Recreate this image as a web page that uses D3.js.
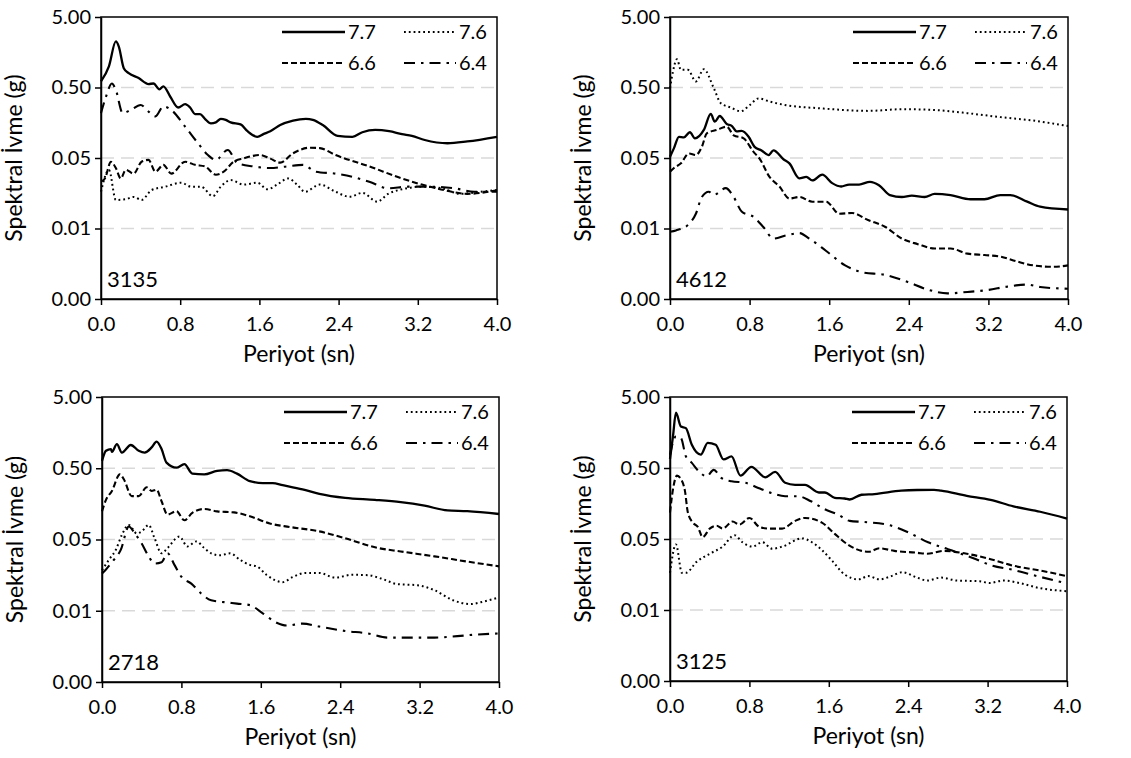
<!DOCTYPE html>
<html><head><meta charset="utf-8">
<script src="https://cdn.jsdelivr.net/npm/d3@7"></script>
<style>
html,body{margin:0;padding:0;background:#fff;}
svg{display:block;font-family:Lato,"Open Sans",sans-serif;}
</style></head>
<body><svg id="c" width="1131" height="758"></svg>
<script>
// ---------- data (period s, spectral acceleration g) ----------
const seriesNames = ["7.7","7.6","6.6","6.4"];
const stationNames = ["3135","4612","2718","3125"];
const xTickValues = [0,0.8,1.6,2.4,3.2,4.0];
const xTickLabels = ["0.0","0.8","1.6","2.4","3.2","4.0"];
const yTickValues = [0.0005,0.005,0.05,0.5,5];
const yTickLabels = ["0.00","0.01","0.05","0.50","5.00"];

const s3135_77 = [[0,0.61],[0.08,1.0],[0.15,2.25],[0.18,1.9],[0.23,0.94],[0.28,0.8],[0.38,0.68],[0.48,0.56],[0.53,0.57],[0.59,0.47],[0.63,0.52],[0.70,0.37],[0.78,0.26],[0.85,0.29],[0.90,0.26],[0.95,0.21],[1.0,0.21],[1.05,0.18],[1.11,0.155],[1.16,0.16],[1.21,0.18],[1.26,0.174],[1.31,0.16],[1.41,0.15],[1.48,0.12],[1.58,0.10],[1.64,0.109],[1.71,0.12],[1.81,0.147],[1.94,0.17],[2.07,0.18],[2.14,0.174],[2.24,0.147],[2.39,0.103],[2.54,0.10],[2.64,0.116],[2.77,0.125],[2.91,0.12],[3.04,0.109],[3.14,0.103],[3.27,0.09],[3.50,0.081],[3.70,0.086],[4.0,0.10]];
const s3135_76 = [[0,0.0166],[0.08,0.034],[0.15,0.0127],[0.25,0.013],[0.33,0.014],[0.41,0.0127],[0.51,0.0175],[0.65,0.0196],[0.81,0.0223],[0.91,0.0196],[1.01,0.0196],[1.13,0.0144],[1.21,0.0196],[1.31,0.0243],[1.44,0.021],[1.58,0.0223],[1.68,0.018],[1.78,0.021],[1.89,0.0257],[1.98,0.021],[2.06,0.0166],[2.21,0.021],[2.37,0.0166],[2.51,0.0141],[2.64,0.016],[2.79,0.012],[2.90,0.0155],[3.04,0.018],[3.24,0.0196],[3.44,0.0186],[3.63,0.0155],[3.83,0.0166],[4.0,0.0175]];
const s3135_66 = [[0,0.0231],[0.04,0.0256],[0.10,0.044],[0.15,0.036],[0.20,0.0256],[0.25,0.034],[0.33,0.03],[0.41,0.0443],[0.48,0.047],[0.55,0.032],[0.63,0.040],[0.71,0.030],[0.85,0.0443],[0.95,0.040],[1.05,0.038],[1.16,0.029],[1.24,0.032],[1.34,0.0443],[1.44,0.0494],[1.61,0.0551],[1.71,0.049],[1.81,0.043],[1.94,0.0583],[2.11,0.07],[2.21,0.069],[2.37,0.055],[2.71,0.038],[3.04,0.0256],[3.24,0.021],[3.47,0.0175],[3.70,0.0155],[4.0,0.0175]];
const s3135_64 = [[0,0.216],[0.05,0.37],[0.11,0.57],[0.15,0.46],[0.22,0.216],[0.30,0.24],[0.40,0.283],[0.48,0.228],[0.55,0.195],[0.63,0.27],[0.71,0.24],[0.85,0.139],[0.98,0.081],[1.08,0.055],[1.16,0.047],[1.28,0.065],[1.38,0.042],[1.54,0.038],[1.71,0.036],[1.88,0.038],[2.04,0.04],[2.17,0.032],[2.37,0.030],[2.54,0.027],[2.71,0.023],[2.90,0.0186],[3.10,0.0196],[3.34,0.0196],[3.57,0.0186],[3.77,0.0166],[4.0,0.0166]];

const s4612_77 = [[0,0.052],[0.04,0.069],[0.09,0.10],[0.14,0.098],[0.20,0.116],[0.25,0.095],[0.34,0.125],[0.41,0.211],[0.45,0.164],[0.50,0.197],[0.57,0.152],[0.62,0.143],[0.67,0.119],[0.72,0.121],[0.79,0.10],[0.85,0.072],[0.92,0.064],[0.99,0.055],[1.04,0.064],[1.14,0.048],[1.20,0.042],[1.30,0.0257],[1.37,0.027],[1.43,0.024],[1.53,0.029],[1.63,0.022],[1.72,0.0197],[1.80,0.021],[1.90,0.021],[2.01,0.023],[2.10,0.0206],[2.21,0.0149],[2.33,0.014],[2.43,0.0146],[2.56,0.014],[2.66,0.0155],[2.82,0.0149],[3.02,0.013],[3.16,0.013],[3.32,0.0149],[3.42,0.0149],[3.59,0.012],[3.72,0.0102],[4.0,0.0093]];
const s4612_76 = [[0,0.49],[0.03,0.846],[0.07,1.26],[0.11,0.89],[0.18,0.89],[0.26,0.61],[0.34,0.91],[0.44,0.49],[0.51,0.30],[0.61,0.26],[0.71,0.23],[0.80,0.28],[0.89,0.35],[1.0,0.316],[1.17,0.28],[1.50,0.254],[2.0,0.233],[2.33,0.246],[2.66,0.24],[2.99,0.216],[3.32,0.19],[3.65,0.17],[4.0,0.142]];
const s4612_66 = [[0,0.032],[0.04,0.036],[0.11,0.042],[0.19,0.058],[0.26,0.055],[0.32,0.072],[0.37,0.112],[0.47,0.125],[0.57,0.139],[0.64,0.105],[0.74,0.095],[0.84,0.061],[0.90,0.049],[1.0,0.027],[1.10,0.0197],[1.20,0.0133],[1.30,0.014],[1.43,0.012],[1.57,0.012],[1.70,0.0081],[1.83,0.0083],[1.99,0.0066],[2.16,0.0053],[2.33,0.0036],[2.49,0.003],[2.66,0.0026],[2.82,0.0026],[2.99,0.0022],[3.16,0.0021],[3.32,0.0020],[3.49,0.0017],[3.65,0.0015],[3.85,0.00143],[4.0,0.0015]];
const s4612_64 = [[0,0.0045],[0.06,0.0047],[0.18,0.0056],[0.26,0.0081],[0.32,0.014],[0.39,0.0166],[0.44,0.015],[0.56,0.0187],[0.64,0.014],[0.72,0.0087],[0.84,0.0073],[0.94,0.0052],[1.04,0.0036],[1.17,0.004],[1.30,0.0043],[1.40,0.0036],[1.57,0.0024],[1.76,0.0015],[1.93,0.0012],[2.16,0.0011],[2.39,0.00087],[2.59,0.00068],[2.79,0.0006],[2.99,0.00063],[3.19,0.00067],[3.39,0.00075],[3.59,0.0008],[3.72,0.00074],[4.0,0.0007]];

const s2718_77 = [[0,0.635],[0.04,0.88],[0.09,0.93],[0.10,0.85],[0.15,1.09],[0.20,0.83],[0.29,1.06],[0.37,0.88],[0.43,0.83],[0.50,0.98],[0.55,1.18],[0.60,0.93],[0.65,0.6],[0.75,0.51],[0.83,0.57],[0.91,0.42],[1.03,0.41],[1.16,0.46],[1.26,0.47],[1.36,0.42],[1.49,0.33],[1.62,0.31],[1.72,0.31],[1.82,0.29],[2.02,0.253],[2.19,0.219],[2.45,0.192],[2.75,0.18],[3.01,0.167],[3.25,0.149],[3.48,0.128],[3.68,0.125],[4.0,0.114]];
const s2718_76 = [[0,0.0186],[0.07,0.026],[0.14,0.036],[0.20,0.058],[0.27,0.080],[0.35,0.061],[0.40,0.065],[0.47,0.080],[0.53,0.052],[0.60,0.032],[0.66,0.038],[0.78,0.055],[0.86,0.040],[0.95,0.047],[1.03,0.038],[1.10,0.032],[1.19,0.030],[1.29,0.032],[1.39,0.026],[1.49,0.022],[1.56,0.021],[1.66,0.0158],[1.82,0.0126],[1.92,0.0148],[2.05,0.017],[2.19,0.017],[2.35,0.0146],[2.52,0.016],[2.68,0.0158],[2.81,0.0142],[2.98,0.0118],[3.18,0.0114],[3.35,0.0097],[3.54,0.0070],[3.71,0.0062],[3.84,0.0067],[4.0,0.0077]];
const s2718_66 = [[0,0.124],[0.04,0.18],[0.10,0.24],[0.18,0.41],[0.22,0.35],[0.30,0.203],[0.37,0.203],[0.45,0.27],[0.50,0.24],[0.55,0.25],[0.60,0.172],[0.66,0.112],[0.75,0.125],[0.83,0.093],[0.91,0.118],[1.03,0.134],[1.16,0.124],[1.33,0.12],[1.49,0.106],[1.69,0.084],[1.89,0.075],[2.19,0.065],[2.45,0.052],[2.78,0.038],[3.01,0.034],[3.35,0.029],[3.68,0.0245],[4.0,0.021]];
const s2718_64 = [[0,0.0167],[0.04,0.019],[0.10,0.024],[0.19,0.036],[0.27,0.076],[0.33,0.061],[0.40,0.044],[0.47,0.029],[0.53,0.023],[0.60,0.024],[0.66,0.032],[0.73,0.022],[0.80,0.015],[0.90,0.012],[1.0,0.0087],[1.10,0.0070],[1.23,0.0066],[1.36,0.0063],[1.49,0.0060],[1.62,0.0046],[1.76,0.0034],[1.86,0.0031],[2.02,0.0033],[2.19,0.0030],[2.45,0.0026],[2.68,0.0024],[2.88,0.0021],[3.18,0.0021],[3.35,0.0021],[3.58,0.0022],[3.74,0.0023],[4.0,0.0024]];

const s3125_77 = [[0,0.67],[0.03,1.4],[0.06,3.0],[0.11,1.92],[0.16,1.82],[0.22,1.06],[0.31,0.77],[0.38,1.13],[0.46,1.06],[0.54,0.66],[0.62,0.73],[0.71,0.39],[0.82,0.52],[0.96,0.37],[1.06,0.44],[1.16,0.31],[1.26,0.29],[1.36,0.29],[1.50,0.226],[1.56,0.226],[1.66,0.19],[1.76,0.186],[1.81,0.18],[1.93,0.21],[2.06,0.215],[2.33,0.24],[2.49,0.245],[2.66,0.246],[2.73,0.24],[2.99,0.203],[3.23,0.178],[3.46,0.144],[3.73,0.121],[4.0,0.097]];
const s3125_76 = [[0,0.0167],[0.06,0.042],[0.12,0.0167],[0.16,0.0167],[0.27,0.024],[0.40,0.031],[0.53,0.039],[0.65,0.0565],[0.73,0.045],[0.83,0.039],[0.93,0.045],[1.03,0.0365],[1.13,0.039],[1.33,0.051],[1.43,0.045],[1.53,0.035],[1.63,0.025],[1.76,0.0158],[1.90,0.0135],[2.0,0.015],[2.11,0.0135],[2.23,0.015],[2.34,0.017],[2.49,0.0143],[2.59,0.013],[2.73,0.0143],[2.89,0.013],[3.12,0.0127],[3.22,0.012],[3.36,0.013],[3.52,0.012],[3.72,0.0102],[4.0,0.0092]];
const s3125_66 = [[0,0.118],[0.03,0.25],[0.07,0.39],[0.12,0.33],[0.15,0.24],[0.18,0.118],[0.23,0.085],[0.28,0.074],[0.33,0.053],[0.40,0.07],[0.47,0.077],[0.53,0.07],[0.63,0.088],[0.70,0.08],[0.80,0.099],[0.90,0.074],[1.0,0.07],[1.13,0.07],[1.26,0.09],[1.36,0.099],[1.53,0.085],[1.66,0.059],[1.80,0.041],[1.93,0.034],[2.0,0.033],[2.11,0.037],[2.26,0.034],[2.49,0.032],[2.59,0.031],[2.76,0.034],[2.99,0.031],[3.23,0.026],[3.46,0.021],[3.73,0.018],[4.0,0.015]];
const s3125_64 = [[0,0.77],[0.06,1.39],[0.11,1.32],[0.16,0.73],[0.22,0.59],[0.29,0.45],[0.37,0.38],[0.44,0.47],[0.52,0.36],[0.62,0.325],[0.76,0.31],[0.89,0.262],[1.02,0.223],[1.16,0.20],[1.29,0.20],[1.42,0.17],[1.56,0.131],[1.69,0.111],[1.81,0.09],[1.95,0.087],[2.20,0.079],[2.40,0.062],[2.60,0.045],[2.80,0.036],[3.05,0.027],[3.25,0.021],[3.45,0.0185],[3.66,0.0155],[4.0,0.0118]];

// ---------- layout ----------
const panels = [
  {name: stationNames[0], L:101, R:497, T:17,  B:299, series:[s3135_77,s3135_76,s3135_66,s3135_64]},
  {name: stationNames[1], L:670, R:1068,T:17,  B:299, series:[s4612_77,s4612_76,s4612_66,s4612_64]},
  {name: stationNames[2], L:102, R:499, T:397, B:682, series:[s2718_77,s2718_76,s2718_66,s2718_64]},
  {name: stationNames[3], L:670, R:1067,T:397, B:681, series:[s3125_77,s3125_76,s3125_66,s3125_64]}
];
const styles = [
  {dash:null, w:2.3},
  {dash:"1.8,3", w:2},
  {dash:"6,3", w:2.1},
  {dash:"11,6,2.5,6", w:2.1}
];
const fontFam = 'Lato,"Open Sans",sans-serif';
const svg = d3.select("#c");

panels.forEach(p => {
  const g = svg.append("g");
  const x = d3.scaleLinear().domain([0,4]).range([p.L,p.R]);
  const y = d3.scaleLog().domain([0.0005,5]).range([p.B,p.T]);

  // gridlines
  g.selectAll("line.grid").data(yTickValues.slice(1,4)).enter().append("line")
    .attr("x1",p.L).attr("x2",p.R).attr("y1",d=>y(d)).attr("y2",d=>y(d))
    .attr("stroke","#d9d9d9").attr("stroke-width",1.6).attr("stroke-dasharray","13,7");

  // series
  const line = d3.line().x(d=>x(d[0])).y(d=>y(d[1])).curve(d3.curveMonotoneX);
  p.series.forEach((s,i) => {
    g.append("path").attr("d", line(s)).attr("fill","none")
      .attr("stroke","#000").attr("stroke-width",styles[i].w)
      .attr("stroke-dasharray",styles[i].dash).attr("stroke-linejoin","round");
  });

  // frame
  g.append("rect").attr("x",p.L).attr("y",p.T).attr("width",p.R-p.L).attr("height",p.B-p.T)
    .attr("fill","none").attr("stroke","#000").attr("stroke-width",1.5);

  // axes
  const ya = d3.axisLeft(y).tickValues(yTickValues).tickFormat((d,i)=>yTickLabels[i]).tickSize(6).tickSizeOuter(0).tickPadding(4);
  const yg = g.append("g").attr("transform",`translate(${p.L},0)`).call(ya);
  const xa = d3.axisBottom(x).tickValues(xTickValues).tickFormat((d,i)=>xTickLabels[i]).tickSize(6).tickSizeOuter(0).tickPadding(12);
  const xg = g.append("g").attr("transform",`translate(0,${p.B})`).call(xa);
  [yg,xg].forEach(a=>{
    a.select(".domain").attr("stroke","#000").attr("stroke-width",1.5);
    a.selectAll(".tick line").attr("stroke","#000").attr("stroke-width",1.5);
    a.selectAll(".tick text").attr("fill","#000").style("font-size","20px").style("font-family",fontFam);
  });

  // axis titles
  g.append("text").attr("x",(p.L+p.R)/2).attr("y",p.B+63).attr("text-anchor","middle")
    .style("font-size","23px").style("font-family",fontFam).text("Periyot (sn)");
  g.append("text").attr("transform",`translate(${p.L-79},${(p.T+p.B)/2}) rotate(-90)`)
    .attr("text-anchor","middle").style("font-size","23px").style("font-family",fontFam).text("Spektral İvme (g)");

  // station label
  g.append("text").attr("x",p.L+6).attr("y",p.B-12).style("font-size","22px").style("font-family",fontFam).text(p.name);

  // legend
  const cols = [{x:p.R-215,len:63}, {x:p.R-93,len:52}];
  seriesNames.forEach((nm,i)=>{
    const c = cols[i%2], cy = p.T + 15 + Math.floor(i/2)*31;
    g.append("line").attr("x1",c.x).attr("x2",c.x+c.len).attr("y1",cy).attr("y2",cy)
      .attr("stroke","#000").attr("stroke-width",styles[i].w).attr("stroke-dasharray",styles[i].dash);
    g.append("text").attr("x",c.x+c.len+3).attr("y",cy+7).style("font-size","20px").style("font-family",fontFam).text(nm);
  });
});
</script></body></html>
